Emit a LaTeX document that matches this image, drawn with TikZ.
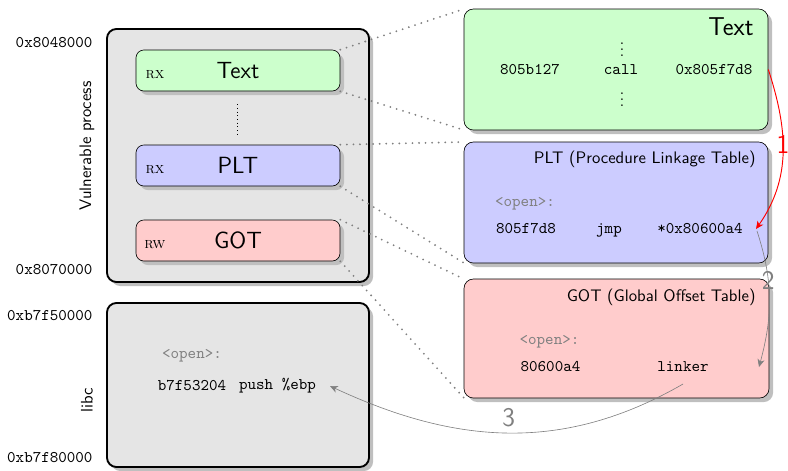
\documentclass[tikz,border=0pt]{standalone}
\usetikzlibrary{shadows, arrows.meta}

\tikzset{
  boxshadow/.style={drop shadow={shadow xshift=2.6pt, shadow yshift=-2.6pt, fill=black!25, opacity=1}},
  memarea/.style={draw, very thick, rounded corners=6pt, fill=black!10, boxshadow},
  section/.style={draw, rounded corners=5pt, boxshadow, font=\fontsize{15}{18}\selectfont\sffamily},
  detail/.style={draw, rounded corners=6pt, boxshadow},
  sanslbl/.style={font=\fontsize{10.7}{13}\selectfont\sffamily},
  addr/.style={font=\fontsize{10.4}{12}\selectfont\ttfamily, anchor=east},
  code/.style={font=\fontsize{10.4}{12}\selectfont\ttfamily, anchor=base},
  perm/.style={font=\scshape},
  link/.style={gray, line width=1.3pt, dash pattern=on 0pt off 4.2pt, line cap=round},
  step label/.style={font=\LARGE\sffamily},
  >={Stealth[length=5pt, width=4.5pt, inset=1.5pt]}
}

\begin{document}
\begin{tikzpicture}[x=0.0225cm, y=0.0225cm]

	\def\pix{0.0225cm}
	\useasboundingbox (0,0) rectangle (788,-470);

	% Memory areas
	\node[memarea, minimum width=262*\pix, minimum height=253*\pix] (proc) at (238,-155.5) {};
	\node[memarea, minimum width=262*\pix, minimum height=164*\pix] (libc) at (238,-385) {};

	\node[sanslbl, rotate=90] (proclbl) at (87,-146) {Vulnerable process};
	\node[sanslbl, rotate=90] (libclbl) at (87,-400) {libc};

	\node[addr] (procstart) at (98,-43) {0x8048000};
	\node[addr] (procend) at (98,-269) {0x8070000};
	\node[addr] (libcstart) at (98,-315) {0xb7f50000};
	\node[addr] (libcend) at (98,-457) {0xb7f80000};

	% Sections
	\node[section, fill=green!20, minimum width=204*\pix, minimum height=41*\pix] (textsec) at (238,-70.5) {Text};
	\node[section, fill=blue!20, minimum width=204*\pix, minimum height=41*\pix] (pltsec) at (238,-165.5) {PLT};
	\node[section, fill=red!20, minimum width=204*\pix, minimum height=41*\pix] (gotsec) at (238,-240.5) {GOT};

	\node[perm] (textperm) at (155,-75) {rx};
	\node[perm] (pltperm) at (155,-170) {rx};
	\node[perm] (gotperm) at (155,-245) {rw};

	\draw[dotted] (237,-104) -- (237,-137);

	% libc code
	\node[code, gray] (libcopen) at (192,-358) {<open>:};
	\node[code] (libcaddr) at (192,-390) {b7f53204};
	\node[code] (libcpush) at (277.5,-389.5) {push \%ebp};

	% Zoom lines
	\coordinate (textbignw) at (464,-9);
	\coordinate (textbigsw) at (464,-130);
	\coordinate (pltbignw) at (464,-142);
	\coordinate (pltbigsw) at (464,-263);
	\coordinate (gotbignw) at (464,-279);
	\coordinate (gotbigsw) at (464,-398);
	\draw[link] (textsec.north east) -- (textbignw);
	\draw[link] (textsec.south east) -- (textbigsw);
	\draw[link] (pltsec.north east) -- (pltbignw);
	\draw[link] (pltsec.south east) -- (pltbigsw);
	\draw[link] (gotsec.north east) -- (gotbignw);
	\draw[link] (gotsec.south east) -- (gotbigsw);

	% Text detail
	\node[detail, fill=green!20, minimum width=304*\pix, minimum height=121*\pix] (textbig) at (616,-69.5) {};
	\node[font=\fontsize{16.5}{20}\selectfont\sffamily, anchor=base east] (texttitle) at (759,-35) {Text};
	\node[inner sep=0pt] (textdots1) at (622,-45) {$\vdots$};
	\node[inner sep=0pt] (textdots2) at (622,-95) {$\vdots$};
	\node[code] (calladdr) at (530,-74.5) {805b127};
	\node[code] (callop) at (621,-74.5) {call};
	\node[code] (calltgt) at (714,-74.5) {0x805f7d8};

	% PLT detail
	\node[detail, fill=blue!20, minimum width=304*\pix, minimum height=121*\pix] (pltbig) at (616,-202.5) {};
	\node[sanslbl, anchor=base east] (plttitle) at (761,-163) {PLT (Procedure Linkage Table)};
	\node[code, gray] (pltopen) at (525,-206) {<open>:};
	\node[code] (pltaddr) at (526,-233.5) {805f7d8};
	\node[code] (pltop) at (609,-233.5) {jmp};
	\node[code] (plttgt) at (700,-233.5) {*0x80600a4};

	% GOT detail
	\node[detail, fill=red!20, minimum width=305*\pix, minimum height=119*\pix] (gotbig) at (616.5,-338.5) {};
	\node[sanslbl, anchor=base east] (gottitle) at (761,-301) {GOT (Global Offset Table)};
	\node[code, gray] (gotopen) at (549.5,-344) {<open>:};
	\node[code] (gotaddr) at (550.5,-371.5) {80600a4};
	\node[code] (gotval) at (683,-371.5) {linker};

	% Steps
	\coordinate (jmpend) at (756,-229);
	\coordinate (jmpstart) at (757,-231);
	\coordinate (linkend) at (759,-367);
	\coordinate (linkstart) at (683,-384);
	\coordinate (pushend) at (330,-386);

	\draw[red, semithick, ->] (textbig.east |- calltgt) to[out=-72, in=55]
		node[pos=0.45, step label, red] {1} (jmpend);
	\draw[gray, ->] (jmpstart) to[out=-72, in=75]
		node[pos=0.36, step label, gray] {2} (linkend);
	\draw[gray, ->] (linkstart) to[out=-150, in=-25]
		node[pos=0.5, above, step label, gray] {3} (pushend);

\end{tikzpicture}
\end{document}
